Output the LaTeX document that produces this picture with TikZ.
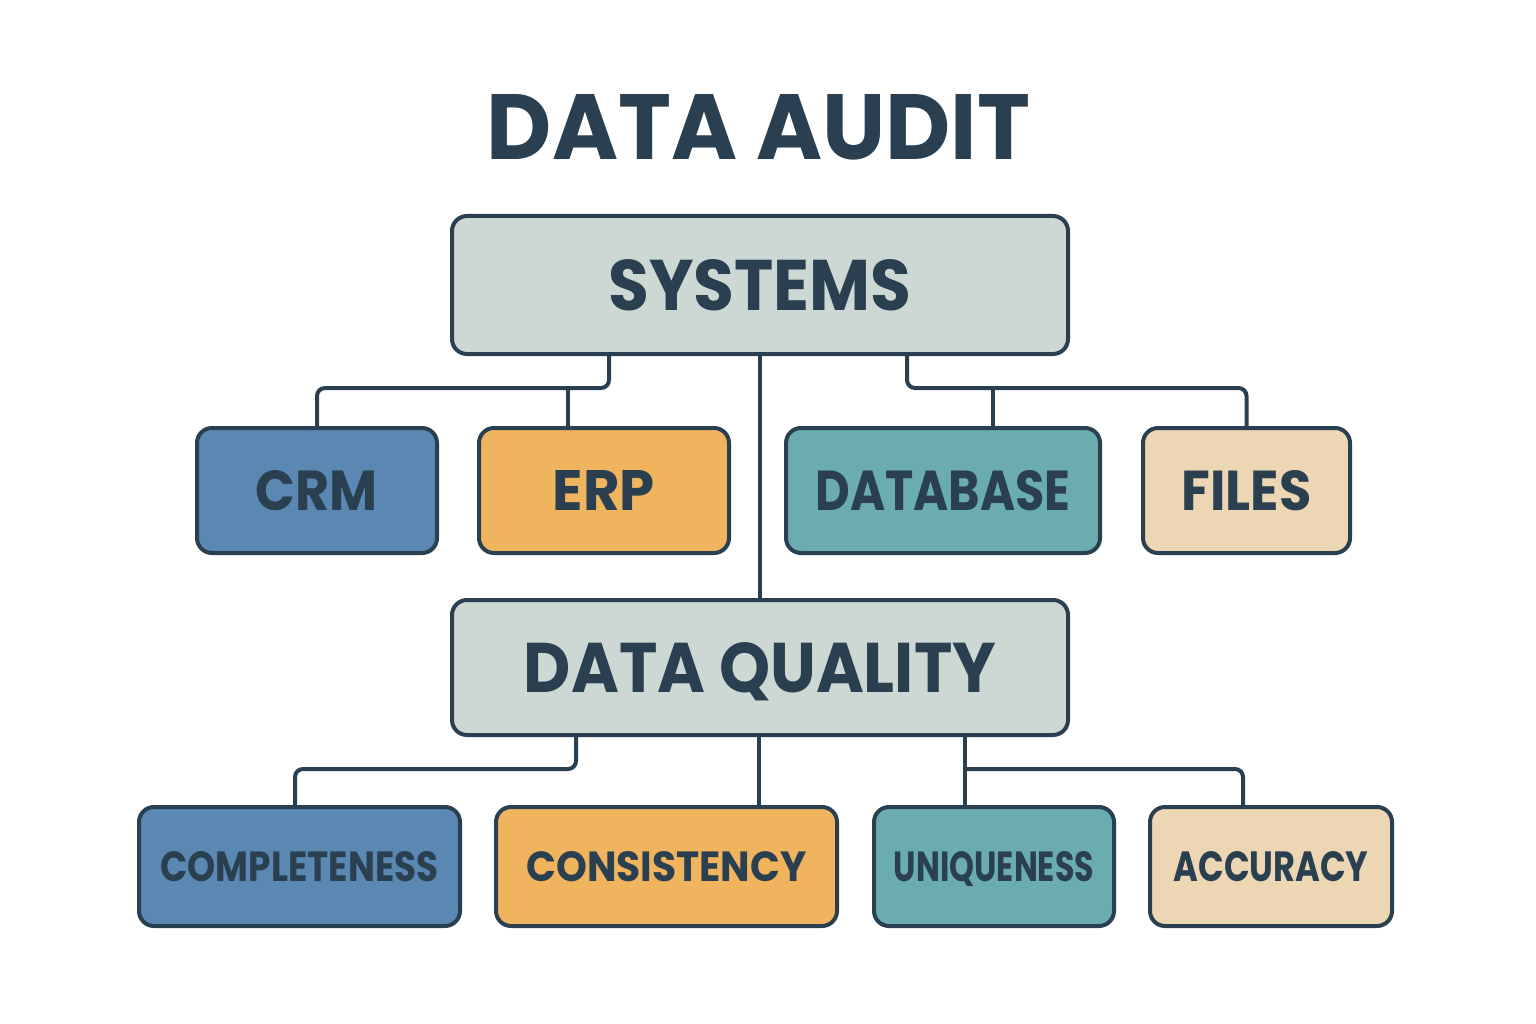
\documentclass[tikz,border=0pt]{standalone}
\usepackage{fontspec}
\setmainfont{Poppins}
\usepackage{graphicx}
\definecolor{ink}{HTML}{2A3F50}
\definecolor{cgray}{HTML}{CDD8D5}
\definecolor{cblue}{HTML}{5B88B3}
\definecolor{corange}{HTML}{F0B35E}
\definecolor{cteal}{HTML}{6BADAF}
\definecolor{cbeige}{HTML}{EDD6B4}
\newcommand{\fittext}[3]{\raisebox{0pt}[\height][0pt]{\resizebox{#1pt}{#2pt}{\bfseries #3}}}
\begin{document}
\begin{tikzpicture}[x=1pt,y=-1pt,
  boxnode/.style={draw=ink, line width=4pt, rounded corners=15pt, text=ink, inner sep=0pt, anchor=center},
  conn/.style={draw=ink, line width=4pt, rounded corners=8pt}]
\useasboundingbox (0,0) rectangle (1536,1024);
\fill[white] (0,0) rectangle (1536,1024);

\node[text=ink, inner sep=0pt] (title) at (758.5,127) {\fittext{543}{65}{DATA AUDIT}};

\node[boxnode, fill=cgray, minimum width=616pt, minimum height=138pt] (sys) at (760,285) {\fittext{303}{51}{SYSTEMS}};

\node[boxnode, fill=cblue, minimum width=240pt, minimum height=125pt] (crm) at (317,490.5) {\fittext{122}{40}{CRM}};
\node[boxnode, fill=corange, minimum width=250pt, minimum height=125pt] (erp) at (604,490.5) {\fittext{102}{40}{ERP}};
\node[boxnode, fill=cteal, minimum width=314pt, minimum height=125pt] (db) at (943,490.5) {\fittext{255}{40}{DATABASE}};
\node[boxnode, fill=cbeige, minimum width=207pt, minimum height=125pt] (files) at (1246.5,490.5) {\fittext{130}{40}{FILES}};

\node[boxnode, fill=cgray, minimum width=616pt, minimum height=135pt] (dq) at (760,667.5) {\fittext{472}{50}{DATA QUALITY}};

\node[boxnode, fill=cblue, minimum width=321pt, minimum height=119pt] (comp) at (299.5,866.5) {\fittext{278}{30}{COMPLETENESS}};
\node[boxnode, fill=corange, minimum width=341pt, minimum height=119pt] (cons) at (666.5,866.5) {\fittext{280}{30}{CONSISTENCY}};
\node[boxnode, fill=cteal, minimum width=240pt, minimum height=119pt] (uniq) at (994,866.5) {\fittext{200}{30}{UNIQUENESS}};
\node[boxnode, fill=cbeige, minimum width=242pt, minimum height=119pt] (acc) at (1271,866.5) {\fittext{195}{30}{ACCURACY}};

% connectors, upper level
\coordinate (sL) at (609,388);
\coordinate (sE) at (568,388);
\coordinate (sR) at (907,388);
\coordinate (sD) at (993,388);
\draw[conn] (sL |- sys.south) -- (sL) -| (crm.north);
\draw[conn] (sE) -- (sE |- erp.north);
\draw[conn] (sR |- sys.south) -- (sR) -| (files.north);
\draw[conn] (sD) -- (sD |- db.north);
\draw[conn] (sys.south) -- (dq.north);

% connectors, lower level
\coordinate (qL) at (576,769);
\coordinate (qC) at (295,769);
\coordinate (qM) at (759,769);
\coordinate (qR) at (965,769);
\coordinate (qA) at (1243,769);
\draw[conn] (qL |- dq.south) -- (qL) -- (qC) -- (qC |- comp.north);
\draw[conn] (qM |- dq.south) -- (qM |- cons.north);
\draw[conn] (qR |- dq.south) -- (qR |- uniq.north);
\draw[conn] (qR) -- (qA) -- (qA |- acc.north);
\end{tikzpicture}
\end{document}
